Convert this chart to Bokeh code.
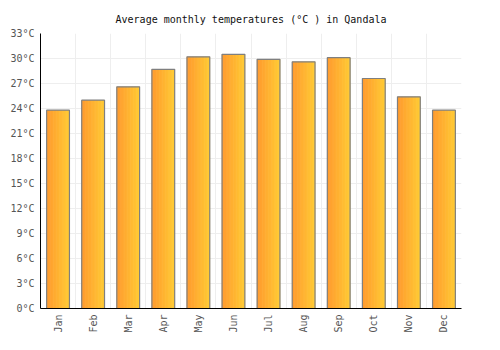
import math
from bokeh.plotting import figure
from bokeh.models import (ColumnDataSource, Range1d, FixedTicker, PrintfTickFormatter, Title)
from bokeh.transform import dodge
from bokeh.embed import file_html
from bokeh.resources import INLINE

months = ["Jan", "Feb", "Mar", "Apr", "May", "Jun", "Jul", "Aug", "Sep", "Oct", "Nov", "Dec"]
temps = [23.8, 25.0, 26.6, 28.7, 30.2, 30.5, 29.9, 29.6, 30.1, 27.6, 25.4, 23.8]
y_ticks = [0, 3, 6, 9, 12, 15, 18, 21, 24, 27, 30, 33]
title_text = "Average monthly temperatures (°C ) in Qandala"

FONT = "DejaVu Sans Mono"
BAR_W = 0.65

xs = [i + 0.5 for i in range(len(months))]
src = ColumnDataSource(dict(x=xs, temp=temps, month=months))

p = figure(width=500, height=350, output_backend="svg", toolbar_location=None,
           x_range=Range1d(0, len(months)), y_range=Range1d(0, 33),
           min_border_left=40, min_border_right=39, min_border_top=33, min_border_bottom=42)
p.outline_line_color = None
p.background_fill_color = "white"
p.border_fill_color = "white"

t = Title(text=title_text, align="center", text_font=FONT, text_font_size="10px",
          text_font_style="normal", text_color="#111111", standoff=18)
p.add_layout(t, "above")

# gradient bars made of thin slices
c0 = (0xFF, 0x9A, 0x2E)
c1 = (0xFF, 0xCA, 0x34)
n = 30
sw = BAR_W / n
for k in range(n):
    f = k / (n - 1)
    col = "#%02x%02x%02x" % tuple(int(round(a + (b - a) * f)) for a, b in zip(c0, c1))
    off = -BAR_W / 2 + (k + 0.5) * sw
    p.vbar(x=dodge("x", off, range=p.x_range), top="temp", bottom=0, width=sw * 1.8,
           source=src, fill_color=col, line_color=None)
p.vbar(x="x", top="temp", bottom=0, width=BAR_W, source=src, fill_color=None,
       line_color="#7f7f7f", line_width=1.2)

# axes
p.xaxis.ticker = FixedTicker(ticks=xs)
p.xaxis.major_label_overrides = {x: m for x, m in zip(xs, months)}
p.xaxis.major_label_orientation = math.pi / 2
p.yaxis.ticker = FixedTicker(ticks=y_ticks)
p.yaxis.formatter = PrintfTickFormatter(format="%d°C")
for ax in (p.xaxis, p.yaxis):
    ax.axis_line_color = "black"
    ax.axis_line_width = 1
    ax.major_tick_line_color = None
    ax.minor_tick_line_color = None
    ax.major_tick_out = 0
    ax.major_tick_in = 0
    ax.minor_tick_out = 0
    ax.major_label_text_font = FONT
    ax.major_label_text_font_size = "10px"
    ax.major_label_text_color = "#555555"
p.yaxis.major_label_standoff = 6
p.xaxis.major_label_standoff = 6

p.xgrid.ticker = FixedTicker(ticks=list(range(len(months) + 1)))
p.xgrid.grid_line_color = "#eeeeee"
p.ygrid.ticker = FixedTicker(ticks=y_ticks)
p.ygrid.grid_line_color = "#eeeeee"

open("out.html", "w").write(file_html(p, INLINE))
